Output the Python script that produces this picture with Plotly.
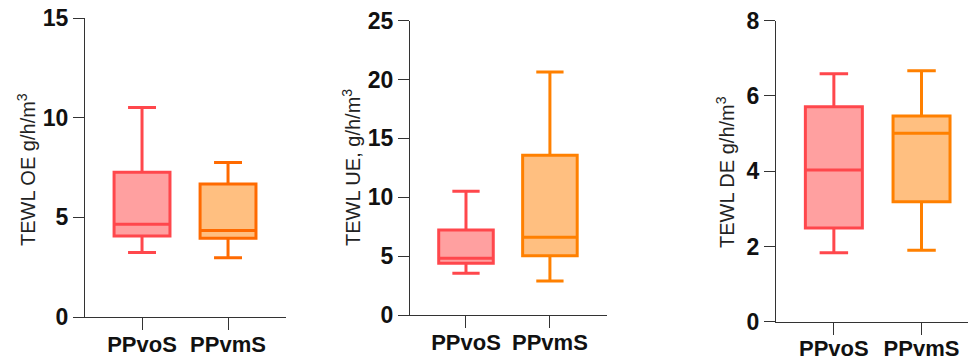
import plotly.graph_objects as go

# ---- data ----
categories = ["PPvoS", "PPvmS"]

# Panel 1: TEWL OE
oe_low = [3.24, 2.98]
oe_q1 = [4.07, 3.95]
oe_med = [4.66, 4.34]
oe_q3 = [7.27, 6.68]
oe_high = [10.52, 7.76]

# Panel 2: TEWL UE
ue_low = [3.54, 2.89]
ue_q1 = [4.39, 5.04]
ue_med = [4.82, 6.60]
ue_q3 = [7.22, 13.57]
ue_high = [10.51, 20.64]

# Panel 3: TEWL DE
de_low = [1.83, 1.90]
de_q1 = [2.49, 3.19]
de_med = [4.03, 5.01]
de_q3 = [5.71, 5.47]
de_high = [6.59, 6.67]

y_titles = ["TEWL OE g/h/m<sup>3</sup>", "TEWL UE, g/h/m<sup>3</sup>", "TEWL DE g/h/m<sup>3</sup>"]
y_ranges = [[0, 15], [0, 25], [0, 8]]
y_dticks = [5, 5, 2]

W, H = 968, 360
line_colors = [["#FF474C", "#FF6A00"], ["#FF474C", "#FF8000"], ["#FF474C", "#FF8000"]]
fill_colors = ["#FFA0A0", "#FFBF80"]

panels = [
    (oe_low, oe_q1, oe_med, oe_q3, oe_high),
    (ue_low, ue_q1, ue_med, ue_q3, ue_high),
    (de_low, de_q1, de_med, de_q3, de_high),
]

# pixel layout: (x_left, x_right, y_zero_px, y_top_px, xrange)
geom = [
    (85, 286, 317.0, 18.3, [-0.663, 1.674]),
    (410, 607, 315.0, 20.7, [-0.667, 1.68]),
    (776, 968, 321.7, 20.7, [-0.66, 1.53]),
]
title_pos = [(26, 170), (351, 168), (725, 172)]

fig = go.Figure()
layout = dict(
    width=W, height=H,
    margin=dict(l=0, r=0, t=0, b=0, autoexpand=False),
    paper_bgcolor="white", plot_bgcolor="white",
    showlegend=False, boxmode="overlay",
    font=dict(family="Arial, Liberation Sans, sans-serif", color="#111"),
    annotations=[],
)

for i, (low, q1, med, q3, high) in enumerate(panels):
    xa = "x" if i == 0 else f"x{i+1}"
    ya = "y" if i == 0 else f"y{i+1}"
    for j, cat in enumerate(categories):
        fig.add_trace(go.Box(
            x=[cat], q1=[q1[j]], median=[med[j]], q3=[q3[j]],
            lowerfence=[low[j]], upperfence=[high[j]],
            boxpoints=False, width=0.65, whiskerwidth=0.5,
            line=dict(color=line_colors[i][j], width=3),
            fillcolor=fill_colors[j],
            xaxis=xa, yaxis=ya, hoverinfo="skip",
        ))
    xl, xr, yz, yt, xrng = geom[i]
    key_x = "xaxis" if i == 0 else f"xaxis{i+1}"
    key_y = "yaxis" if i == 0 else f"yaxis{i+1}"
    layout[key_x] = dict(
        domain=[xl / W, xr / W], anchor=ya, type="category",
        categoryorder="array", categoryarray=categories,
        range=xrng, showline=True, linecolor="#333", linewidth=1.3,
        ticks="outside", ticklen=12, tickwidth=1.3, tickcolor="#333",
        showgrid=False, zeroline=False, automargin=False,
        ticklabelstandoff=-5,
        tickfont=dict(size=22, family="Arial, Liberation Sans", color="#111", weight="bold"),
    )
    layout[key_y] = dict(
        domain=[1 - yz / H, 1 - yt / H], anchor=xa,
        range=y_ranges[i], dtick=y_dticks[i], tick0=0,
        showline=True, linecolor="#333", linewidth=1.3,
        ticks="outside", ticklen=11, tickwidth=1.3, tickcolor="#333",
        showgrid=False, zeroline=False, automargin=False,
        tickfont=dict(size=23, family="Arial, Liberation Sans", color="#111", weight="bold"),
    )
    tx, ty = title_pos[i]
    layout["annotations"].append(dict(
        text=y_titles[i], xref="paper", yref="paper",
        x=tx / W, y=1 - ty / H, xanchor="center", yanchor="middle",
        textangle=-90, showarrow=False,
        font=dict(size=20, family="Arial, Liberation Sans", color="#222"),
    ))

fig.update_layout(**layout)
fig.write_html("out.html")
